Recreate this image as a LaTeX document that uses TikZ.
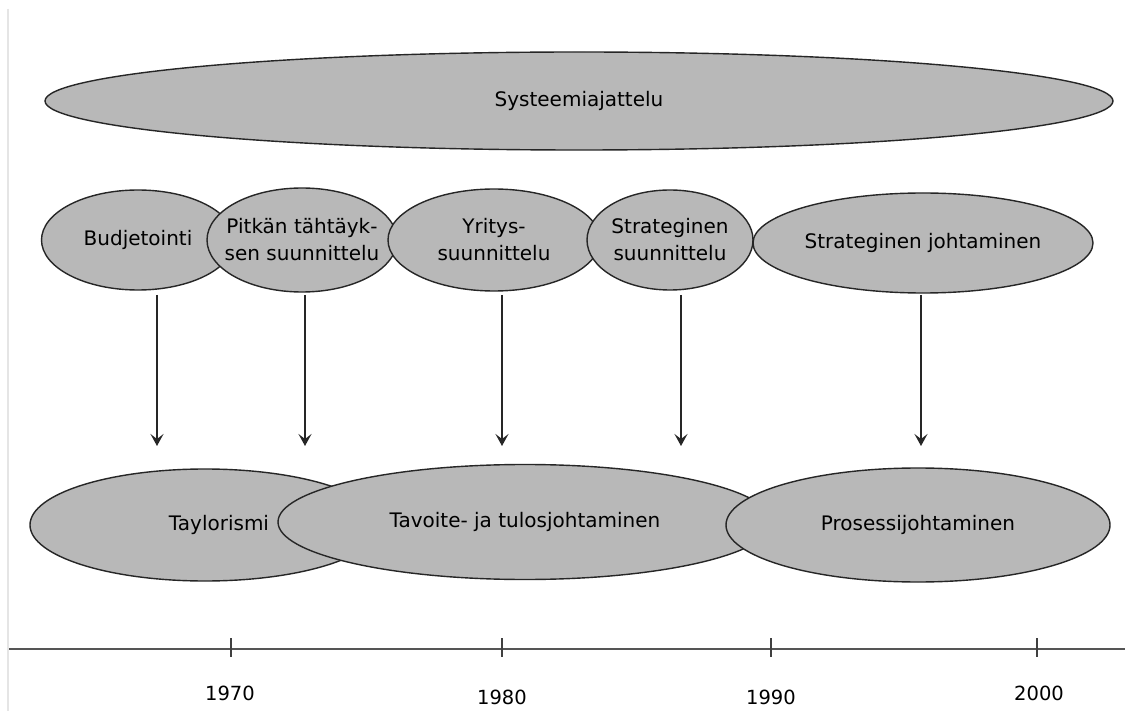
\documentclass[tikz,border=0pt]{standalone}
\usepackage{fontspec}
\setmainfont{DejaVu Sans}
\usetikzlibrary{shapes.geometric,arrows.meta}
\definecolor{ovalgray}{RGB}{184,184,184}
\definecolor{axisgray}{RGB}{85,85,85}
\begin{document}
\begin{tikzpicture}[x=1pt,y=-1pt,
  oval/.style={ellipse, draw=black!85, line width=1.4pt, fill=ovalgray, inner xsep=-45pt, inner ysep=0pt, align=center, font=\fontsize{20}{27}\selectfont},
  flow/.style={-{Stealth[length=12pt,width=13pt,inset=5pt]}, line width=1.8pt, draw=black!85},
  axisline/.style={line width=2.8pt, draw=axisgray},
  tick/.style={line width=1.6pt, draw=black!75},
  year/.style={font=\fontsize{19.5}{22}\selectfont, inner sep=0pt},
  frame/.style={line width=1.6pt, draw=black!10}]
\useasboundingbox (0,0) rectangle (1125,711);
\fill[white] (0,0) rectangle (1125,711);
\draw[frame] (8,9) -- (8,711);
% top
\node[oval, minimum width=1068pt, minimum height=98pt] (sys) at (579,101) {Systeemiajattelu};
% middle row
\node[oval, minimum width=193pt, minimum height=100pt] (bud) at (138,240) {Budjetointi};
\node[oval, minimum width=190pt, minimum height=104pt] (pit) at (302,240) {Pitkän tähtäyk-\\sen suunnittelu};
\node[oval, minimum width=212pt, minimum height=102pt] (yri) at (494,240) {Yritys-\\suunnittelu};
\node[oval, minimum width=166pt, minimum height=100pt] (ssu) at (670,240) {Strateginen\\suunnittelu};
\node[oval, minimum width=340pt, minimum height=100pt] (sjo) at (923,243) {Strateginen johtaminen};
% bottom row
\node[oval, minimum width=350pt, minimum height=112pt] (tay) at (205,525) {\hspace*{28pt}Taylorismi};
\node[oval, minimum width=494pt, minimum height=115pt] (tav) at (525,522) {Tavoite- ja tulosjohtaminen};
\node[oval, minimum width=384pt, minimum height=114pt] (pro) at (918,525) {Prosessijohtaminen};
% arrows
\coordinate (a1) at (157,295); \coordinate (b1) at (157,446);
\coordinate (a2) at (305,295); \coordinate (b2) at (305,446);
\coordinate (a3) at (502,295); \coordinate (b3) at (502,446);
\coordinate (a4) at (681,295); \coordinate (b4) at (681,446);
\coordinate (a5) at (921,295); \coordinate (b5) at (921,446);
\draw[flow] (a1) -- (b1);
\draw[flow] (a2) -- (b2);
\draw[flow] (a3) -- (b3);
\draw[flow] (a4) -- (b4);
\draw[flow] (a5) -- (b5);
% axis
\coordinate (axL) at (9,649);
\coordinate (axR) at (1125,649);
\draw[axisline] (axL) -- (axR);
\coordinate (t1a) at (231,638); \coordinate (t1b) at (231,657);
\coordinate (t2a) at (502,638); \coordinate (t2b) at (502,657);
\coordinate (t3a) at (771,638); \coordinate (t3b) at (771,657);
\coordinate (t4a) at (1037,638); \coordinate (t4b) at (1037,657);
\draw[tick] (t1a) -- (t1b);
\draw[tick] (t2a) -- (t2b);
\draw[tick] (t3a) -- (t3b);
\draw[tick] (t4a) -- (t4b);
\node[year] (y1970) at (230,693) {1970};
\node[year] (y1980) at (502,697) {1980};
\node[year] (y1990) at (771,697) {1990};
\node[year] (y2000) at (1039,693) {2000};
\end{tikzpicture}
\end{document}
